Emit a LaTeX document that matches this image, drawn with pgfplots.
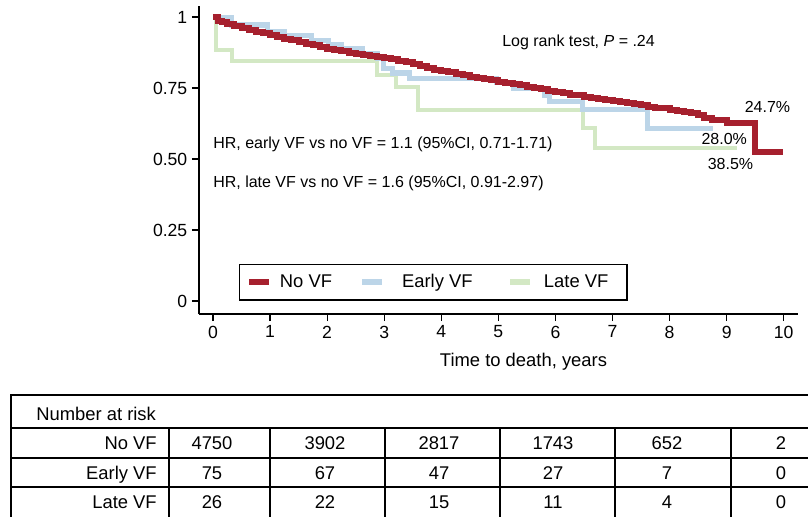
\documentclass[border=0pt]{standalone}
\usepackage{fontspec}
\setmainfont{Liberation Sans}
\usepackage{pgfplots}
\pgfplotsset{compat=1.18}
\definecolor{noVF}{RGB}{166,32,46}
\definecolor{earlyVF}{RGB}{188,213,232}
\definecolor{lateVF}{RGB}{211,232,196}
\begin{document}
\begin{tikzpicture}
\useasboundingbox (0,0) rectangle (606pt,-387.75pt);
\begin{axis}[
  at={(149.25pt,-235.5pt)}, anchor=south west,
  scale only axis, width=449.25pt, height=231pt,
  xmin=-0.245, xmax=10.25, ymin=-0.0458, ymax=1.039,
  axis lines*=left, axis line style={line width=0.9pt},
  tick align=outside, major tick length=5.25pt,
  tick style={line width=0.9pt, black},
  xtick={0,...,10}, ytick={0,0.25,0.5,0.75,1},
  yticklabels={0,0.25,0.50,0.75,1},
  /pgf/number format/assume math mode=true,
  ticklabel style={font=\fontsize{13.2}{15}\selectfont},
  legend columns=3,
  legend cell align=left,
  legend image code/.code={\draw[#1] (0pt,0pt) -- (15pt,0pt);},
  legend style={at={(0.0668,0.1623)}, anchor=north west, draw=black,
    line width=0.9pt, font=\fontsize{13.8}{16}\selectfont,
    inner xsep=5pt, inner ysep=5.5pt},
]
\addlegendimage{noVF, line width=4.5pt}
\addlegendentry{\hspace*{3.75pt}No VF\hspace*{18.5pt}}
\addlegendimage{earlyVF, line width=4.5pt}
\addlegendentry{\hspace*{10.5pt}Early VF\hspace*{24pt}}
\addlegendimage{lateVF, line width=4.5pt}
\addlegendentry{\hspace*{6pt}Late VF\hspace*{7pt}}

% Late VF
\addplot[const plot, lateVF, line width=3pt, forget plot] coordinates {
(0,1) (0.05,0.885) (0.33,0.846) (2.87,0.796) (3.2,0.755) (3.59,0.673)
(6.48,0.609) (6.69,0.539) (9.18,0.539)};
% Early VF
\addplot[const plot, earlyVF, line width=3.8pt, forget plot] coordinates {
(0,1) (0.33,0.972) (0.96,0.95) (1.26,0.935) (1.73,0.917) (2.03,0.903)
(2.25,0.89) (2.62,0.872) (2.88,0.855) (2.98,0.82) (3.15,0.803) (3.45,0.785)
(4.97,0.768) (5.26,0.75) (5.81,0.725) (5.9,0.702) (6.48,0.673) (7.62,0.609)
(8.76,0.609)};
% No VF
\addplot[const plot, noVF, line width=4.5pt, forget plot] coordinates {
(0,1) (0.08,0.985) (0.15,0.981) (0.25,0.976) (0.375,0.970) (0.5,0.963)
(0.625,0.956) (0.75,0.949) (0.875,0.943) (1.0,0.936) (1.125,0.930)
(1.25,0.924) (1.375,0.918) (1.5,0.912) (1.625,0.906) (1.75,0.900)
(1.875,0.895) (2.0,0.889) (2.125,0.884) (2.25,0.879) (2.375,0.875)
(2.5,0.871) (2.625,0.867) (2.75,0.863) (2.875,0.859) (3.0,0.855)
(3.125,0.851) (3.25,0.846) (3.375,0.840) (3.5,0.833) (3.625,0.827)
(3.75,0.821) (3.875,0.815) (4.0,0.810) (4.125,0.805) (4.25,0.800)
(4.375,0.795) (4.5,0.790) (4.625,0.786) (4.75,0.781) (4.875,0.777)
(5.0,0.772) (5.125,0.768) (5.25,0.763) (5.375,0.759) (5.5,0.754)
(5.625,0.750) (5.75,0.745) (5.875,0.741) (6.0,0.736) (6.125,0.732)
(6.25,0.727) (6.375,0.724) (6.5,0.720) (6.625,0.716) (6.75,0.712)
(6.875,0.709) (7.0,0.705) (7.125,0.701) (7.25,0.697) (7.375,0.693)
(7.5,0.689) (7.625,0.685) (7.75,0.681) (7.875,0.678) (8.0,0.674)
(8.125,0.670) (8.25,0.666) (8.375,0.661) (8.5,0.656) (8.6,0.645)
(8.75,0.637) (9.0,0.627) (9.49,0.526) (9.98,0.526)};
\end{axis}

\begin{scope}[x=0.75pt,y=-0.75pt]
  % annotations
  \begin{scope}[every node/.style={inner sep=0pt, font=\fontsize{12}{14}\selectfont}]
    \node[anchor=base west] at (502,47) {Log rank test, \textit{P} = .24};
    \node[anchor=base west] at (213,148.5) {HR, early VF vs no VF = 1.1 (95\%CI, 0.71-1.71)};
    \node[anchor=base west] at (213,187) {HR, late VF vs no VF = 1.6 (95\%CI, 0.91-2.97)};
    \node[anchor=base] at (767.5,113) {24.7\%};
    \node[anchor=base] at (724.2,145) {28.0\%};
    \node[anchor=base] at (730.5,170) {38.5\%};
  \end{scope}
  \node[anchor=base, inner sep=0pt, font=\fontsize{13.8}{16}\selectfont] at (523.5,366) {Time to death, years};

  % number at risk table
  \draw[line width=0.9pt] (11,540) -- (11,395) -- (830,395);
  \foreach \yy in {428,458,487} \draw[line width=0.9pt] (11,\yy) -- (830,\yy);
  \foreach \xx in {169,270,385,500,615,731} \draw[line width=0.9pt] (\xx,428) -- (\xx,540);
  \begin{scope}[every node/.style={inner sep=0pt, font=\fontsize{13.8}{16}\selectfont}]
    \node[anchor=base west] at (36,420) {Number at risk};
    \node[anchor=base east] at (157,449) {No VF};
    \node[anchor=base east] at (157,479) {Early VF};
    \node[anchor=base east] at (157,508) {Late VF};
    \foreach \xx/\a/\b/\c in {212/4750/75/26, 325/3902/67/22, 439/2817/47/15,
                              553/1743/27/11, 667/652/7/4, 781/2/0/0} {
      \node[anchor=base] at (\xx,449) {\a};
      \node[anchor=base] at (\xx,479) {\b};
      \node[anchor=base] at (\xx,508) {\c};
    }
  \end{scope}
\end{scope}
\end{tikzpicture}
\end{document}
